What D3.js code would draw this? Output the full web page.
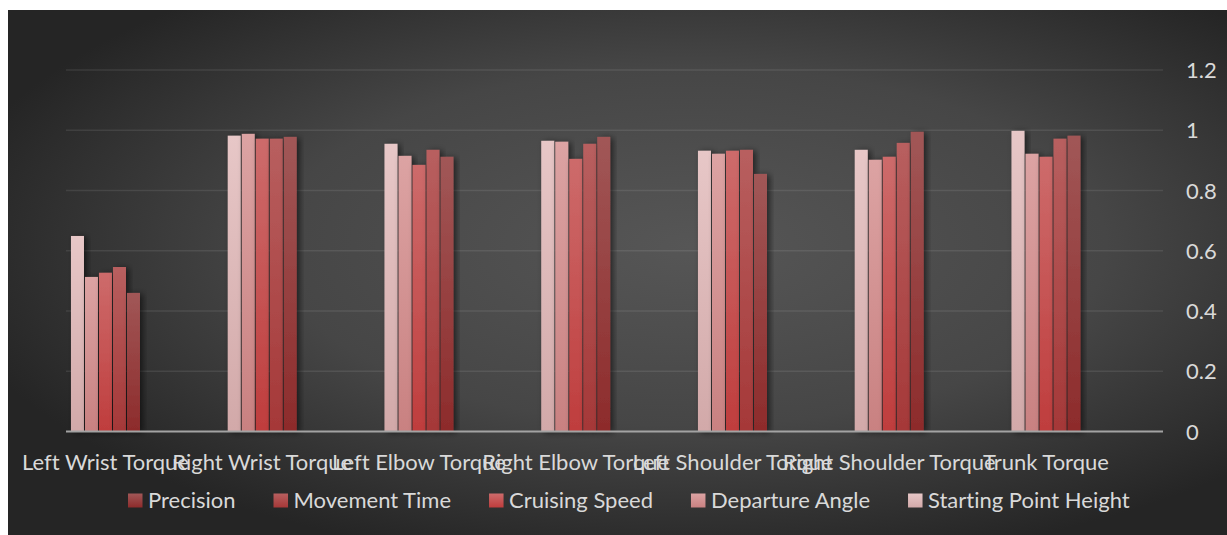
<!DOCTYPE html>
<html>
<head>
<meta charset="utf-8">
<script src="https://cdn.jsdelivr.net/npm/d3@7"></script>
<style>
  html, body { margin: 0; padding: 0; background: #ffffff; }
  svg { display: block; }
  text { font-family: Lato, "Noto Sans", sans-serif; font-variant-ligatures: none; }
</style>
</head>
<body>
<svg id="chart" width="1227" height="535"></svg>
<script>
// Torque categories along the x axis
const categories = [
  "Left Wrist Torque", "Right Wrist Torque", "Left Elbow Torque",
  "Right Elbow Torque", "Left Shoulder Torque", "Right Shoulder Torque", "Trunk Torque"
];

// One array per series, in the order the bars are drawn inside each group
const startingPointHeight = [0.649, 0.982, 0.955, 0.965, 0.932, 0.935, 0.998];
const departureAngle      = [0.513, 0.988, 0.915, 0.962, 0.922, 0.902, 0.922];
const cruisingSpeed       = [0.527, 0.972, 0.885, 0.905, 0.932, 0.912, 0.912];
const movementTime        = [0.546, 0.972, 0.935, 0.955, 0.935, 0.958, 0.972];
const precision           = [0.460, 0.978, 0.912, 0.978, 0.855, 0.995, 0.982];

const seriesNames = ["Starting Point Height", "Departure Angle", "Cruising Speed", "Movement Time", "Precision"];
const seriesValues = [startingPointHeight, departureAngle, cruisingSpeed, movementTime, precision];

// Legend lists the series darkest first
const legendOrder = ["Precision", "Movement Time", "Cruising Speed", "Departure Angle", "Starting Point Height"];

// Value axis ticks
const tickValues = [0, 0.2, 0.4, 0.6, 0.8, 1, 1.2];
const tickLabels = ["0", "0.2", "0.4", "0.6", "0.8", "1", "1.2"];

// Vertical gradient stops (top, bottom) per series
const seriesColors = {
  "Starting Point Height": ["#e7c7c7", "#d2a9a9"],
  "Departure Angle":       ["#dca3a3", "#c98181"],
  "Cruising Speed":        ["#cd6b6b", "#bf3d3d"],
  "Movement Time":         ["#b85f5f", "#a53838"],
  "Precision":             ["#a15757", "#8d2b2b"]
};

const svg = d3.select("#chart");
const defs = svg.append("defs");

// Background: soft radial light in the middle, dark corners
const bg = defs.append("radialGradient")
  .attr("id", "bgGrad")
  .attr("cx", 0.56).attr("cy", 0.45).attr("r", 0.62)
  .attr("fx", 0.56).attr("fy", 0.45);
bg.append("stop").attr("offset", "0%").attr("stop-color", "#565656");
bg.append("stop").attr("offset", "55%").attr("stop-color", "#464646");
bg.append("stop").attr("offset", "100%").attr("stop-color", "#252525");

seriesNames.forEach((name, i) => {
  const g = defs.append("linearGradient")
    .attr("id", "barGrad" + i)
    .attr("x1", 0).attr("y1", 0).attr("x2", 0).attr("y2", 1);
  g.append("stop").attr("offset", "0%").attr("stop-color", seriesColors[name][0]);
  g.append("stop").attr("offset", "100%").attr("stop-color", seriesColors[name][1]);
});

const shadow = defs.append("filter")
  .attr("id", "barShadow")
  .attr("x", "-30%").attr("y", "-10%").attr("width", "180%").attr("height", "130%");
shadow.append("feDropShadow")
  .attr("dx", 3).attr("dy", 1).attr("stdDeviation", 3)
  .attr("flood-color", "#000").attr("flood-opacity", 0.55);

svg.append("rect")
  .attr("x", 8).attr("y", 10)
  .attr("width", 1219).attr("height", 525)
  .attr("fill", "url(#bgGrad)");

// Plot frame
const plotLeft = 66, plotRight = 1163;
const y = d3.scaleLinear().domain([0, 1.2]).range([431.5, 70]);

const x0 = d3.scaleBand().domain(categories).range([27.1, 1124.35]).padding(0);
const x1 = d3.scaleBand().domain(seriesNames).range([0, 69]).paddingInner(1 / 14).paddingOuter(0);

// Gridlines
svg.append("g").selectAll("line")
  .data(tickValues.filter(d => d > 0))
  .join("line")
  .attr("x1", plotLeft).attr("x2", plotRight)
  .attr("y1", d => y(d)).attr("y2", d => y(d))
  .attr("stroke", "rgba(255,255,255,0.09)")
  .attr("stroke-width", 1.5);

// Value axis on the right
const yAxis = svg.append("g")
  .attr("transform", `translate(${plotRight},0)`)
  .call(d3.axisRight(y)
    .tickValues(tickValues)
    .tickSize(0)
    .tickPadding(23)
    .tickFormat((d, i) => tickLabels[i]));
yAxis.select(".domain").remove();
yAxis.selectAll("text")
  .attr("fill", "#d9d9d9")
  .style("font-size", "22px")
  .attr("dy", "0.35em");

// Bars
const groups = svg.append("g").selectAll("g")
  .data(categories)
  .join("g")
  .attr("transform", d => `translate(${x0(d) + x0.bandwidth() / 2 - 34.5},0)`);

groups.selectAll("rect")
  .data((c, ci) => seriesNames.map((s, si) => ({ series: s, si, value: seriesValues[si][ci] })))
  .join("rect")
  .attr("x", d => x1(d.series))
  .attr("width", x1.bandwidth())
  .attr("y", d => y(d.value))
  .attr("height", d => y(0) - y(d.value))
  .attr("fill", d => `url(#barGrad${d.si})`)
  .attr("filter", "url(#barShadow)");

// Category axis
svg.append("line")
  .attr("x1", plotLeft).attr("x2", plotRight)
  .attr("y1", y(0)).attr("y2", y(0))
  .attr("stroke", "#a3a3a3")
  .attr("stroke-width", 2);

const xAxis = svg.append("g")
  .attr("transform", `translate(0,${y(0)})`)
  .call(d3.axisBottom(x0).tickSize(0).tickPadding(0));
xAxis.select(".domain").remove();
xAxis.selectAll("text")
  .attr("fill", "#d9d9d9")
  .style("font-size", "22px")
  .attr("y", 38.5)
  .attr("dy", 0);

// Legend
const legend = svg.append("g").attr("transform", "translate(0,500)");
let lx = 128;
legendOrder.forEach(name => {
  const si = seriesNames.indexOf(name);
  legend.append("rect")
    .attr("x", lx).attr("y", -6.5)
    .attr("width", 14.5).attr("height", 14)
    .attr("fill", `url(#barGrad${si})`);
  const t = legend.append("text")
    .attr("x", lx + 20).attr("y", 0)
    .attr("dy", "0.35em")
    .attr("fill", "#d9d9d9")
    .style("font-size", "22px")
    .text(name);
  lx += 20 + t.node().getComputedTextLength() + 38;
});
</script>
</body>
</html>
